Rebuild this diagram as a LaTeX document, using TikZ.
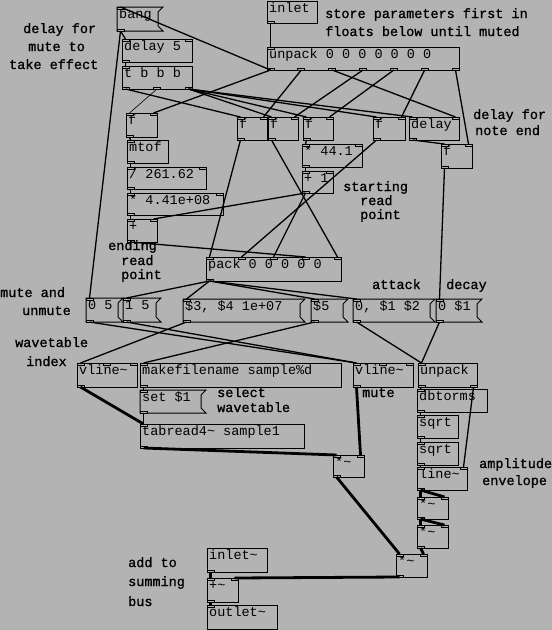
\documentclass[tikz,border=0pt]{standalone}
\usepackage{fontspec}
\newfontfamily\pdfont{Liberation Mono}
\newfontfamily\pdcfont[FakeBold=1]{Liberation Mono}
\definecolor{pdbg}{RGB}{179,179,179}
\tikzset{
  obj/.style={draw, line width=1pt, anchor=north west, inner sep=0pt, outer sep=0pt},
  hid/.style={anchor=north west, inner sep=0pt, outer sep=0pt},
  txt/.style={anchor=base west, inner sep=0pt, font=\pdfont\fontsize{13.5}{16}\selectfont},
  cmt/.style={anchor=base west, inner sep=0pt, font=\pdcfont\fontsize{13.5}{16}\selectfont},
  port/.style={draw, line width=0.8pt, fill=pdbg},
  ctl/.style={line width=1.3pt},
  thinctl/.style={line width=0.6pt},
  sig/.style={line width=2.8pt},
}
\newcommand\pdports[7]{%
  \ifnum#6>0
    \pgfmathtruncatemacro\nlast{#6-1}%
    \foreach \i in {0,...,\nlast}{%
      \ifnum#6>1 \pgfmathsetmacro\px{#2+\i*(#4-#2-7)/(#6-1)}\else\pgfmathsetmacro\px{#2}\fi
      \draw[port] (\px,#3) rectangle ++(7,2);
      \coordinate (#1-i\i) at (\px+3.5,#3);
    }%
  \fi
  \ifnum#7>0
    \pgfmathtruncatemacro\nlast{#7-1}%
    \foreach \i in {0,...,\nlast}{%
      \ifnum#7>1 \pgfmathsetmacro\px{#2+\i*(#4-#2-7)/(#7-1)}\else\pgfmathsetmacro\px{#2}\fi
      \draw[port] (\px,#5) rectangle ++(7,-2);
      \coordinate (#1-o\i) at (\px+3.5,#5);
    }%
  \fi
}
\newcommand\pdobj[8]{%
  \pgfmathsetmacro\pw{#4-#2}\pgfmathsetmacro\ph{#5-#3}%
  \node[obj, minimum width=\pw pt, minimum height=\ph pt] (#1) at (#2,#3) {};
  \node[txt] (#1-t) at (#2+2,#3+11) {#6};
  \pdports{#1}{#2}{#3}{#4}{#5}{#7}{#8}%
}
\newcommand\pdmsg[6]{%
  \pgfmathsetmacro\pw{#4-#2}\pgfmathsetmacro\ph{#5-#3}%
  \node[hid, minimum width=\pw pt, minimum height=\ph pt] (#1) at (#2,#3) {};
  \draw[line width=1pt] (#2,#3) -- (#4,#3) -- (#4-5,#3+5) -- (#4-5,#5-5) -- (#4,#5) -- (#2,#5) -- cycle;
  \node[txt] (#1-t) at (#2+2,#3+11) {#6};
  \pdports{#1}{#2}{#3}{#4}{#5}{1}{1}%
}
\begin{document}
\begin{tikzpicture}[x=1pt,y=-1pt]
\fill[pdbg] (0,0) rectangle (552,630);
\useasboundingbox (0,0) rectangle (552,630);
% boxes
\pdmsg{bang}{117}{7}{163}{31}{bang}
\pdobj{del5}{122}{39}{192}{62}{delay 5}{2}{1}
\pdobj{tbbb}{122}{66}{192}{89}{t b b b}{1}{3}
\pdobj{inl}{267}{1}{317}{23}{inlet}{0}{1}
\pdobj{unp}{267}{47}{459}{70}{unpack 0 0 0 0 0 0 0}{1}{7}
\pdobj{fa}{126}{113}{157}{137}{f}{2}{1}
\pdobj{fb}{237}{117}{267}{140}{f}{2}{1}
\pdobj{fc}{268}{117}{298}{140}{f}{2}{1}
\pdobj{fd}{303}{117}{333}{140}{f}{2}{1}
\pdobj{fe}{373}{117}{405}{140}{f}{2}{1}
\pdobj{dly}{409}{117}{459}{140}{delay}{2}{1}
\pdobj{ff}{441}{144}{472}{168}{f}{2}{1}
\pdobj{mtof}{127}{140}{168}{163}{mtof}{1}{1}
\pdobj{div}{127}{167}{206}{189}{/ 261.62}{2}{1}
\pdobj{mul}{127}{193}{223}{215}{* 4.41e+08}{2}{1}
\pdobj{add}{127}{219}{157}{242}{+}{2}{1}
\pdobj{mulb}{302}{144}{362}{167}{* 44.1}{2}{1}
\pdobj{addb}{302}{171}{333}{193}{+ 1}{2}{1}
\pdobj{pack}{206}{257}{341}{281}{pack 0 0 0 0 0}{5}{1}
\pdmsg{mza}{86}{298}{123}{322}{0 5}
\pdmsg{mzb}{123}{298}{161}{322}{1 5}
\pdmsg{mwin}{183}{299}{305}{322}{\$3, \$4 1e+07}
\pdmsg{msmp}{311}{299}{348}{322}{\$5}
\pdmsg{matk}{353}{299}{435}{322}{0, \$1 \$2}
\pdmsg{mdec}{436}{299}{482}{322}{0 \$1}
\pdobj{vla}{77}{363}{137}{387}{vline\textasciitilde}{3}{1}
\pdobj{mkf}{140}{363}{341}{387}{makefilename sample\%d}{1}{1}
\pdobj{vlb}{353}{363}{413}{387}{vline\textasciitilde}{3}{1}
\pdobj{unq}{418}{363}{477}{387}{unpack}{1}{2}
\pdmsg{set}{140}{390}{206}{413}{set \$1}
\pdobj{tab}{140}{424}{304}{448}{tabread4\textasciitilde{} sample1}{1}{1}
\pdobj{dbt}{417}{389}{487}{412}{dbtorms}{1}{1}
\pdobj{sqa}{417}{415}{458}{438}{sqrt}{1}{1}
\pdobj{sqb}{417}{442}{458}{465}{sqrt}{1}{1}
\pdobj{lin}{417}{467}{467}{490}{line\textasciitilde}{2}{1}
\pdobj{ma}{417}{497}{448}{519}{*\textasciitilde}{2}{1}
\pdobj{mb}{417}{525}{448}{548}{*\textasciitilde}{2}{1}
\pdobj{mmute}{333}{455}{364}{477}{*\textasciitilde}{2}{1}
\pdobj{mfin}{396}{554}{427}{577}{*\textasciitilde}{2}{1}
\pdobj{isig}{207}{548}{267}{572}{inlet\textasciitilde}{0}{1}
\pdobj{asig}{207}{578}{238}{602}{+\textasciitilde}{2}{1}
\pdobj{osig}{207}{605}{277}{629}{outlet\textasciitilde}{1}{0}
% comments
\node[cmt] (c1a) at (23,33) {delay for};
\node[cmt] (c1b) at (28,51) {mute to};
\node[cmt] (c1c) at (9,69) {take effect};
\node[cmt] (c2a) at (325,18) {store parameters first in};
\node[cmt] (c2b) at (325,36) {floats below until muted};
\node[cmt] (c3a) at (473,119) {delay for};
\node[cmt] (c3b) at (475,135) {note end};
\node[cmt] (c4a) at (343,191) {starting};
\node[cmt] (c4b) at (360,205) {read};
\node[cmt] (c4c) at (360,219) {point};
\node[cmt] (c5a) at (108,250) {ending};
\node[cmt] (c5b) at (121,265) {read};
\node[cmt] (c5c) at (121,279) {point};
\node[cmt] (c6a) at (0,297) {mute and};
\node[cmt] (c6b) at (22,315) {unmute};
\node[cmt] (c7a) at (15,347) {wavetable};
\node[cmt] (c7b) at (26,366) {index};
\node[cmt] (c8a) at (372,289) {attack};
\node[cmt] (c8b) at (446,289) {decay};
\node[cmt] (c9) at (362,397) {mute};
\node[cmt] (c10a) at (217,397) {select};
\node[cmt] (c10b) at (217,412) {wavetable};
\node[cmt] (c11a) at (479,468) {amplitude};
\node[cmt] (c11b) at (482,485) {envelope};
\node[cmt] (c12a) at (128,567) {add to};
\node[cmt] (c12b) at (128,586) {summing};
\node[cmt] (c12c) at (128,606) {bus};
% control connections
\draw[ctl] (inl-o0) -- (unp-i0);
\draw[ctl] (unp-o0) -- (bang-i0);
\draw[ctl] (unp-o0) -- (fa-i1);
\draw[ctl] (unp-o1) -- (fb-i1);
\draw[ctl] (unp-o2) -- (dly-i1);
\draw[ctl] (unp-o3) -- (fc-i1);
\draw[ctl] (unp-o4) -- (fd-i1);
\draw[ctl] (unp-o5) -- (fe-i1);
\draw[ctl] (unp-o6) -- (ff-i1);
\draw[ctl] (bang-o0) -- (del5-i0);
\draw[ctl] (bang-o0) -- (mza-i0);
\draw[ctl] (del5-o0) -- (tbbb-i0);
\draw[ctl] (tbbb-o0) -- (fb-i0);
\draw[thinctl] (tbbb-o1) -- (fa-i0);
\draw[ctl] (tbbb-o2) -- (fc-i0);
\draw[ctl] (tbbb-o2) -- (fd-i0);
\draw[ctl] (tbbb-o2) -- (fe-i0);
\draw[ctl] (tbbb-o2) -- (dly-i0);
\draw[ctl] (dly-o0) -- (ff-i0);
\draw[ctl] (fa-o0) -- (mtof-i0);
\draw[ctl] (mtof-o0) -- (div-i0);
\draw[ctl] (div-o0) -- (mul-i0);
\draw[ctl] (mul-o0) -- (add-i0);
\draw[ctl] (fd-o0) -- (mulb-i0);
\draw[ctl] (mulb-o0) -- (addb-i0);
\draw[ctl] (addb-o0) -- (add-i1);
\draw[ctl] (addb-o0) -- (pack-i2);
\draw[ctl] (add-o0) -- (pack-i3);
\draw[ctl] (fb-o0) -- (pack-i0);
\draw[ctl] (fc-o0) -- (pack-i4);
\draw[ctl] (fe-o0) -- (pack-i1);
\draw[ctl] (ff-o0) -- (mdec-i0);
\draw[ctl] (pack-o0) -- (mzb-i0);
\draw[ctl] (pack-o0) -- (mwin-i0);
\draw[ctl] (pack-o0) -- (msmp-i0);
\draw[ctl] (pack-o0) -- (matk-i0);
\draw[ctl] (mza-o0) -- (vlb-i0);
\draw[ctl] (mzb-o0) -- (vlb-i0);
\draw[ctl] (mwin-o0) -- (vla-i0);
\draw[ctl] (msmp-o0) -- (mkf-i0);
\draw[ctl] (matk-o0) -- (unq-i0);
\draw[ctl] (mdec-o0) -- (unq-i0);
\draw[ctl] (mkf-o0) -- (set-i0);
\draw[ctl] (set-o0) -- (tab-i0);
\draw[ctl] (unq-o0) -- (dbt-i0);
\draw[ctl] (unq-o1) -- (lin-i1);
\draw[ctl] (dbt-o0) -- (sqa-i0);
\draw[ctl] (sqa-o0) -- (sqb-i0);
\draw[ctl] (sqb-o0) -- (lin-i0);
% signal connections
\draw[sig] (vla-o0) -- (tab-i0);
\draw[sig] (tab-o0) -- (mmute-i0);
\draw[sig] (vlb-o0) -- (mmute-i1);
\draw[sig] (lin-o0) -- (ma-i0);
\draw[sig] (lin-o0) -- (ma-i1);
\draw[sig] (ma-o0) -- (mb-i0);
\draw[sig] (ma-o0) -- (mb-i1);
\draw[sig] (mb-o0) -- (mfin-i1);
\draw[sig] (mmute-o0) -- (mfin-i0);
\draw[sig] (mfin-o0) -- (asig-i1);
\draw[sig] (isig-o0) -- (asig-i0);
\draw[sig] (asig-o0) -- (osig-i0);
\end{tikzpicture}
\end{document}
